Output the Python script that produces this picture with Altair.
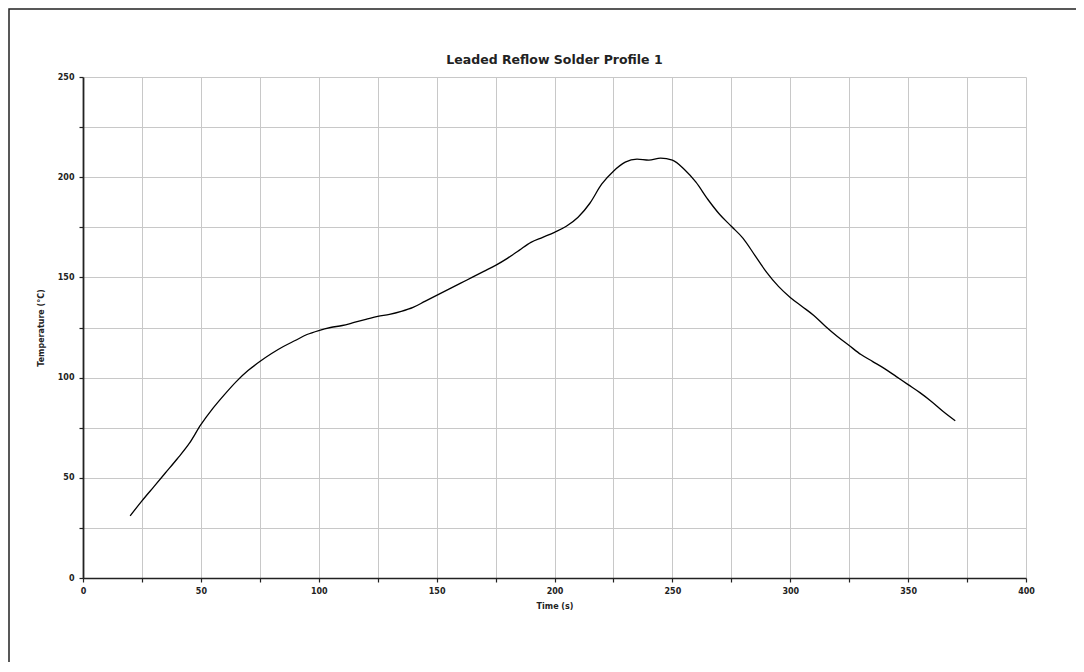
import altair as alt
import pandas as pd

# Time (s)
time_s = [20, 25, 30, 35, 40, 45, 50, 55, 60, 65, 70, 75, 80, 85, 90, 95,
          100, 105, 110, 115, 120, 125, 130, 135, 140, 145, 150, 155, 160,
          165, 170, 175, 180, 185, 190, 195, 200, 205, 210, 215, 220, 225,
          230, 235, 240, 245, 250, 255, 260, 265, 270, 275, 280, 285, 290,
          295, 300, 305, 310, 315, 320, 325, 330, 335, 340, 345, 350, 355,
          360, 365, 370]
# Temperature (°C)
temp_c = [31, 38.5, 45.5, 52.5, 59.5, 67, 76.5, 84.5, 91.5, 98, 103.5, 108,
          112, 115.5, 118.5, 121.5, 123.5, 125, 126, 127.5, 129, 130.5, 131.5,
          133, 135, 138, 141, 144, 147, 150, 153, 156, 159.5, 163.5, 167.5,
          170, 172.5, 175.5, 180, 187, 196.5, 203, 207.5, 209, 208.5, 209.5,
          208.5, 204, 197.5, 189, 181.5, 175.5, 169.5, 161, 152.5, 145.5, 140,
          135.5, 131, 125.5, 120.5, 116, 111.5, 108, 104.5, 100.5, 96.5, 92.5,
          88, 83, 78.5]

x_ticks = list(range(0, 401, 25))
y_ticks = list(range(0, 251, 25))
chart_title = ["Leaded Reflow Solder Profile 1"]

df = pd.DataFrame({"t": time_s, "T": temp_c})

FONT = "DejaVu Sans"
W, H = 943, 501

x_axis = alt.Axis(
    values=x_ticks, labelExpr="datum.value % 50 == 0 ? datum.label : ''",
    grid=True, gridColor="#c8c8c8", gridWidth=1,
    domainColor="#222222", domainWidth=1.5,
    tickColor="#222222", tickSize=4, tickWidth=1.2,
    labelFont=FONT, labelFontSize=8, labelFontWeight="bold", labelColor="#222222",
    labelPadding=5, labelFlush=False,
    titleFont=FONT, titleFontSize=8, titleFontWeight="bold", titleColor="#222222",
    titlePadding=7,
)
y_axis = alt.Axis(
    values=y_ticks, labelExpr="datum.value % 50 == 0 ? datum.label : ''",
    grid=True, gridColor="#c8c8c8", gridWidth=1,
    domainColor="#222222", domainWidth=1.8,
    tickColor="#222222", tickSize=4, tickWidth=1.2,
    labelFont=FONT, labelFontSize=8, labelFontWeight="bold", labelColor="#222222",
    labelPadding=5, labelFlush=False,
    titleFont=FONT, titleFontSize=8, titleFontWeight="bold", titleColor="#222222",
    titlePadding=12,
)

line = alt.Chart(df).mark_line(
    color="black", strokeWidth=1.3, interpolate="monotone"
).encode(
    x=alt.X("t:Q", title="Time (s)", scale=alt.Scale(domain=[0, 400], nice=False), axis=x_axis),
    y=alt.Y("T:Q", title="Temperature (°C)", scale=alt.Scale(domain=[0, 250], nice=False), axis=y_axis),
)

frame = alt.Chart(pd.DataFrame({"k": [0]})).mark_rect(
    filled=False, stroke="#222222", strokeWidth=1.5
).encode(
    x=alt.value(-74), x2=alt.value(2000),
    y=alt.value(-68), y2=alt.value(2000),
)

title = alt.Chart(pd.DataFrame({"title": chart_title})).mark_text(
    font=FONT, fontSize=12.5, fontWeight="bold", color="#222222",
    align="center", baseline="middle",
).encode(
    text="title:N",
    x=alt.value(W / 2), y=alt.value(-17),
)

chart = alt.layer(line, frame, title).properties(
    width=W, height=H,
    autosize=alt.AutoSizeParams(type="none"),
    padding={"left": 75, "top": 69, "right": 50, "bottom": 84},
).configure_view(strokeWidth=0)

chart.save("out.html", embed_options={"renderer": "svg", "actions": False})
